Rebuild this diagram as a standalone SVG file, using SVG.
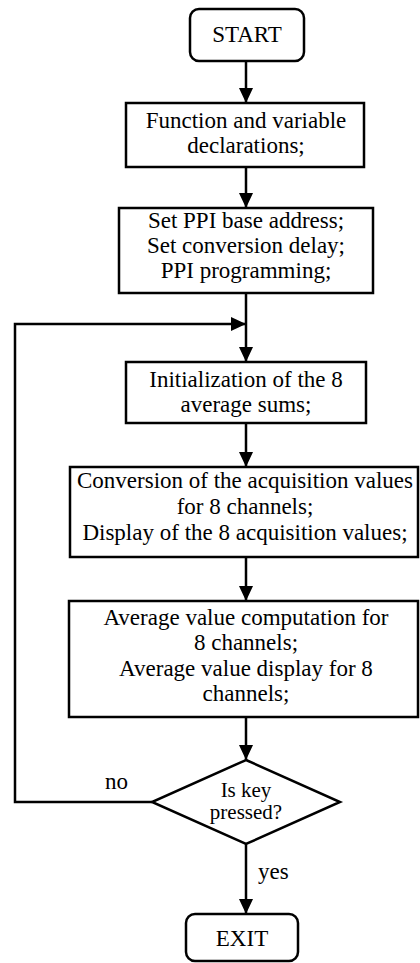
<svg xmlns="http://www.w3.org/2000/svg" width="420" height="963" viewBox="0 0 420 963">
<style>
.box{fill:#fff;stroke:#000;stroke-width:2.5}
.ln{fill:none;stroke:#000;stroke-width:2.5}
text{font-family:"Liberation Serif","Times New Roman",Times,serif;font-size:23px;fill:#000}
.t{text-anchor:middle}
.d{font-size:21px}
</style>
<defs>
<marker id="ah" markerUnits="userSpaceOnUse" markerWidth="15" markerHeight="14" refX="15" refY="7" orient="auto">
<path d="M0,0 L15,7 L0,14 z" fill="#000"/>
</marker>
</defs>
<g id="connectors">
<line class="ln" x1="246" y1="61" x2="246" y2="103" marker-end="url(#ah)"/>
<line class="ln" x1="246" y1="167" x2="246" y2="208" marker-end="url(#ah)"/>
<line class="ln" x1="246" y1="293" x2="246" y2="362" marker-end="url(#ah)"/>
<line class="ln" x1="246" y1="423" x2="246" y2="467" marker-end="url(#ah)"/>
<line class="ln" x1="246" y1="557" x2="246" y2="601" marker-end="url(#ah)"/>
<line class="ln" x1="246" y1="717" x2="246" y2="760" marker-end="url(#ah)"/>
<line class="ln" x1="246" y1="844" x2="246" y2="914" marker-end="url(#ah)"/>
<polyline class="ln" points="152,802 15,802 15,324 246,324" marker-end="url(#ah)"/>
<text x="105" y="789">no</text>
<text x="258" y="879">yes</text>
</g>
<g id="start">
<rect class="box" x="190" y="9" width="114" height="52" rx="9"/>
<text class="t" x="247" y="42">START</text>
</g>
<g id="declarations">
<rect class="box" x="126" y="103" width="238" height="64"/>
<text class="t" x="246" y="128">Function and variable</text>
<text class="t" x="246" y="153">declarations;</text>
</g>
<g id="setup">
<rect class="box" x="119" y="208" width="254" height="85"/>
<text class="t" x="246" y="228">Set PPI base address;</text>
<text class="t" x="246" y="253">Set conversion delay;</text>
<text class="t" x="246" y="278">PPI programming;</text>
</g>
<g id="init">
<rect class="box" x="126" y="362" width="240" height="61"/>
<text class="t" x="246" y="387">Initialization of the 8</text>
<text class="t" x="246" y="412">average sums;</text>
</g>
<g id="conversion">
<rect class="box" x="70" y="467" width="348" height="90"/>
<text class="t" x="245" y="488">Conversion of the acquisition values</text>
<text class="t" x="245" y="514">for 8 channels;</text>
<text class="t" x="245" y="540">Display of the 8 acquisition values;</text>
</g>
<g id="average">
<rect class="box" x="69" y="601" width="349" height="116"/>
<text class="t" x="246" y="625">Average value computation for</text>
<text class="t" x="246" y="650">8 channels;</text>
<text class="t" x="246" y="676">Average value display for 8</text>
<text class="t" x="246" y="701">channels;</text>
</g>
<g id="decision">
<polygon class="box" points="246,760 340,802 246,844 152,802"/>
<text class="t d" x="246" y="797">Is key</text>
<text class="t d" x="246" y="819">pressed?</text>
</g>
<g id="exit">
<rect class="box" x="186" y="914" width="112" height="47" rx="9"/>
<text class="t" x="242" y="946">EXIT</text>
</g>
</svg>
